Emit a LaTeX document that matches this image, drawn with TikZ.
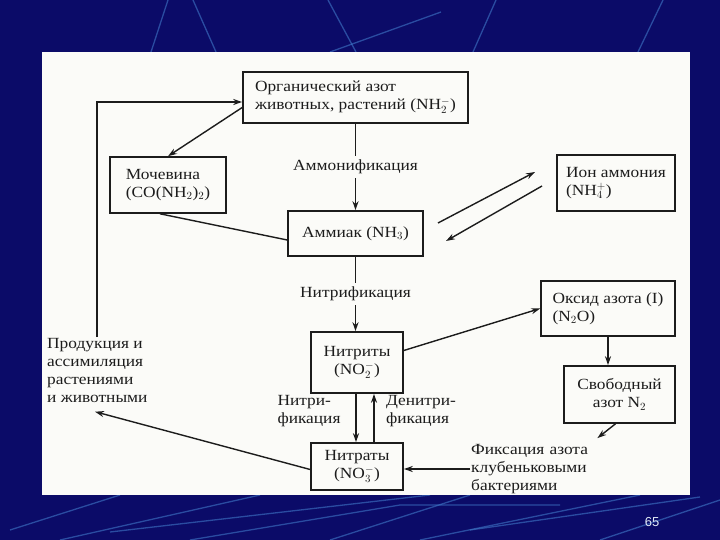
\documentclass[tikz,border=0pt]{standalone}
\usepackage{fontspec}
\setmainfont[FakeStretch=1.12]{Liberation Serif}
\setsansfont{Liberation Sans}
\usepackage{tikz}
\usetikzlibrary{
  arrows.meta,
  positioning,
  calc
}
\definecolor{SLnavy}{HTML}{0B0B68}
\definecolor{SLstreak}{HTML}{3F78C8}
\definecolor{SLpaper}{HTML}{FBFBF8}
\definecolor{SLink}{HTML}{1C1C1C}

\begin{document}
\begin{tikzpicture}[
      x=1pt, y=-1pt,
      >={Stealth[length=9pt,width=6pt]},
      font=\fontsize{15.5}{18}\selectfont,
      cyclebox/.style={
        rectangle, draw=SLink, fill=SLpaper, text=SLink,
        align=left, inner sep=3pt, line width=1.6pt
      },
      cyclearr/.style={->, draw=SLink, line width=1.4pt},
      cycleline/.style={draw=SLink, line width=1.4pt},
      cyclelbl/.style={fill=SLpaper, text=SLink, inner sep=4pt},
      cycletxt/.style={text=SLink, align=left, inner sep=1pt},
      streak/.style={draw=SLstreak, line width=1.3pt, opacity=0.6}
    ]

    % Slide background
    \fill[SLnavy] (0,0) rectangle (720,540);
    \useasboundingbox (0,0) rectangle (720,540);
    \draw[streak] (168,0) -- (151,52);
    \draw[streak] (193,0) -- (216,52);
    \draw[streak] (328,0) -- (356,52);
    \draw[streak] (441,12) -- (330,52);
    \draw[streak] (496,0) -- (473,52);
    \draw[streak] (663,0) -- (638,52);
    \draw[streak] (10,530) -- (120,495);
    \draw[streak] (60,540) -- (260,495);
    \draw[streak] (110,532) -- (430,495);
    \draw[streak] (190,540) -- (400,505) -- (560,505);
    \draw[streak] (330,540) -- (470,495);
    \draw[streak] (420,540) -- (640,495);
    \draw[streak] (470,530) -- (700,497);
    \draw[streak] (600,540) -- (720,500);
    \fill[SLpaper] (42,52) rectangle (690,495);

    % Level 1: organic nitrogen
    \node[cyclebox, minimum width=225pt, minimum height=51pt] (org) at (355.5,97.5)
      {Органический азот\\животных, растений (NH$_2^-$)};

    % Level 2: urea, ammonia, ammonium ion
    \node[cyclebox, minimum width=116pt, minimum height=56pt] (moch) at (168,185)
      {Мочевина\\(CO(NH$_2$)$_2$)};
    \node[cyclebox, minimum width=135pt, minimum height=45pt, align=center] (amm) at (355.5,233.5)
      {Аммиак (NH$_3$)};
    \node[cyclebox, minimum width=118pt, minimum height=56pt] (ion) at (616,183)
      {Ион аммония\\(NH$_4^+$)};

    % Level 3: nitrites, nitrous oxide, free nitrogen
    \node[cyclebox, minimum width=92pt, minimum height=61pt, align=center] (nitrit) at (357,362.5)
      {Нитриты\\(NO$_2^-$)};
    \node[cyclebox, minimum width=134pt, minimum height=55pt] (oksid) at (608,308.5)
      {Оксид азота (I)\\(N$_2$O)};
    \node[cyclebox, minimum width=111pt, minimum height=57pt, align=center] (svob) at (619.5,394.5)
      {Свободный\\азот N$_2$};

    % Level 4: nitrates
    \node[cyclebox, minimum width=92pt, minimum height=47pt, align=center] (nitrat) at (357,466.5)
      {Нитраты\\(NO$_3^-$)};

    % Free texts
    \node[cycletxt, anchor=north west] (prod) at (46,337)
      {Продукция и\\ассимиляция\\растениями\\и животными};
    \node[cycletxt, anchor=west, text width=125pt] (fix) at (470,469)
      {Фиксация азота\\клубеньковыми\\бактериями};
    \node[cycletxt] (nitlbl) at (309,411) {Нитри-\\фикация};
    \node[cycletxt] (denlbl) at (421,411) {Денитри-\\фикация};

    % Ammonia <-> ammonium ends
    \coordinate (eqA) at (438,223);
    \coordinate (eqB) at (535,172);
    \coordinate (eqC) at (542,186);
    \coordinate (eqD) at (446,241);

    % Arrows
    \draw[cyclearr] (org) -- node[cyclelbl]{Аммонификация} (amm);
    \draw[cyclearr] ([yshift=-10pt]org.west) -- (moch.north);
    \draw[cycleline] ([xshift=-8pt]moch.south) -- ([yshift=-6.5pt]amm.west);
    \draw[cyclearr] (eqA) -- (eqB);
    \draw[cyclearr] (eqC) -- (eqD);
    \draw[cyclearr] (amm.south) -- node[cyclelbl]{Нитрификация} (amm.south |- nitrit.north);
    \draw[cyclearr] ([xshift=-1pt]nitrit.south) -- ([xshift=-1pt]nitrat.north);
    \draw[cyclearr] ([xshift=17pt]nitrat.north) -- ([xshift=17pt]nitrit.south);
    \draw[cyclearr] ([yshift=12pt]nitrit.east) -- (oksid.west);
    \draw[cyclearr] (oksid.south) -- (oksid.south |- svob.north);
    \draw[cyclearr] ([xshift=-4pt]svob.south) -- ([yshift=5pt]fix.north east);
    \draw[cyclearr] (fix.west) -- (fix.west -| nitrat.east);
    \draw[cyclearr] ([yshift=-3pt]nitrat.west) -- ([xshift=49pt,yshift=-8pt]prod.south west);
    \draw[cyclearr] ([xshift=51pt]prod.north west) |- ([yshift=-4.5pt]org.west);

    % Slide number
    \node[text=white!85!SLstreak, font=\sffamily\fontsize{13}{15}\selectfont] (pgnum) at (652,522) {65};
  \end{tikzpicture}
\end{document}
